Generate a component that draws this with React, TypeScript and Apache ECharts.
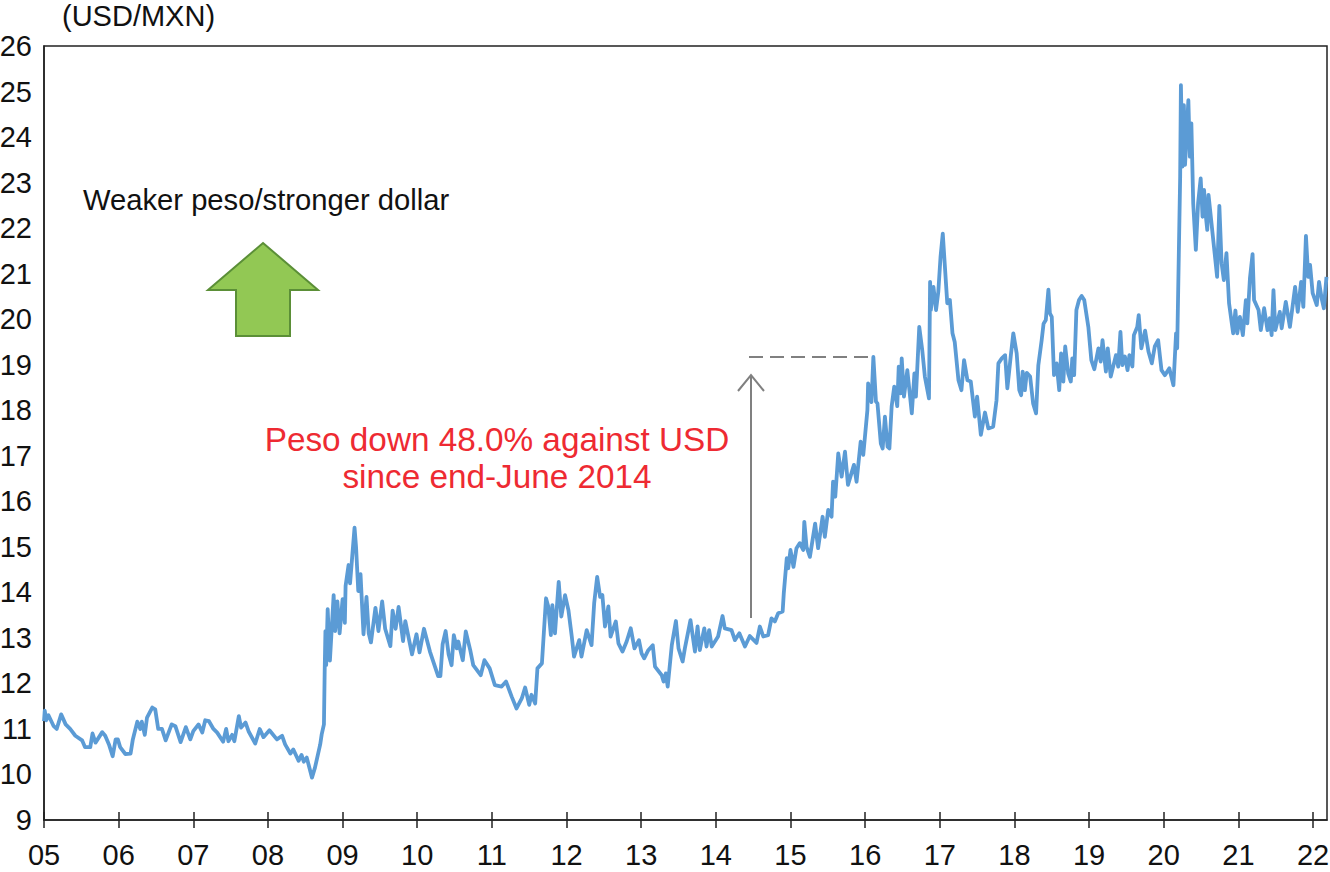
import React, { useEffect, useRef } from "react";
import * as echarts from "echarts";

const yearTicks = [2005, 2006, 2007, 2008, 2009, 2010, 2011, 2012, 2013, 2014, 2015, 2016, 2017, 2018, 2019, 2020, 2021, 2022];

const dates0508 = [2005.0, 2005.01, 2005.03, 2005.06, 2005.13, 2005.17, 2005.23, 2005.29, 2005.35, 2005.42, 2005.51, 2005.55, 2005.62, 2005.65, 2005.69, 2005.78, 2005.82, 2005.87, 2005.92, 2005.96, 2005.99,
  2006.02, 2006.09, 2006.16, 2006.19, 2006.25, 2006.29, 2006.31, 2006.35, 2006.38, 2006.45, 2006.49, 2006.53, 2006.58, 2006.63, 2006.71, 2006.76, 2006.83, 2006.9, 2006.96,
  2007.0, 2007.07, 2007.12, 2007.16, 2007.21, 2007.27, 2007.32, 2007.4, 2007.44, 2007.47, 2007.52, 2007.55, 2007.61, 2007.64, 2007.7, 2007.74, 2007.83, 2007.89, 2007.94,
  2008.02, 2008.12, 2008.19, 2008.23, 2008.3, 2008.34, 2008.41, 2008.45, 2008.48, 2008.52, 2008.59, 2008.63, 2008.7, 2008.72, 2008.75, 2008.76, 2008.77, 2008.78, 2008.8, 2008.83, 2008.88, 2008.9, 2008.93, 2008.96];
const rates0508 = [11.17, 11.4, 11.19, 11.3, 11.06, 11.0, 11.32, 11.1, 11.0, 10.85, 10.75, 10.6, 10.6, 10.9, 10.7, 10.93, 10.85, 10.66, 10.4, 10.77, 10.77,
  10.6, 10.45, 10.46, 10.77, 11.16, 11.0, 11.16, 10.87, 11.25, 11.47, 11.43, 11.0, 11.0, 10.75, 11.1, 11.06, 10.71, 11.04, 10.77,
  10.95, 11.1, 10.92, 11.19, 11.17, 11.0, 10.92, 10.72, 11.0, 10.73, 10.87, 10.73, 11.28, 11.03, 11.14, 10.95, 10.68, 11.0, 10.82,
  10.97, 10.77, 10.85, 10.66, 10.46, 10.55, 10.3, 10.43, 10.28, 10.37, 9.93, 10.15, 10.66, 10.88, 11.1, 12.27, 13.15, 12.4, 13.63, 12.5, 13.94, 13.15, 13.8, 13.1];

const dates0911 = [2009.0, 2009.03, 2009.04, 2009.08, 2009.1, 2009.16, 2009.18, 2009.21, 2009.24, 2009.28, 2009.32, 2009.35, 2009.38, 2009.44, 2009.48, 2009.53, 2009.57, 2009.64, 2009.67, 2009.71, 2009.75, 2009.81, 2009.84, 2009.93, 2009.99,
  2010.03, 2010.09, 2010.17, 2010.28, 2010.31, 2010.34, 2010.38, 2010.42, 2010.46, 2010.49, 2010.53, 2010.55, 2010.61, 2010.65, 2010.71, 2010.75, 2010.85, 2010.9, 2010.97,
  2011.04, 2011.13, 2011.19, 2011.265, 2011.33, 2011.4, 2011.445, 2011.5, 2011.53, 2011.58, 2011.61, 2011.67, 2011.725, 2011.755, 2011.79, 2011.81, 2011.845, 2011.895, 2011.93, 2011.98];
const rates0911 = [13.85, 13.33, 14.14, 14.6, 14.2, 15.42, 15.0, 14.03, 14.4, 13.08, 13.9, 13.1, 12.9, 13.66, 13.15, 13.8, 13.2, 12.82, 13.6, 13.2, 13.68, 12.93, 13.37, 12.64, 13.08,
  12.68, 13.2, 12.7, 12.16, 12.16, 12.86, 13.15, 12.64, 12.4, 13.06, 12.77, 12.92, 12.51, 13.14, 12.73, 12.4, 12.18, 12.51, 12.33,
  11.96, 11.93, 12.04, 11.71, 11.45, 11.67, 11.91, 11.53, 11.75, 11.56, 12.33, 12.44, 13.87, 13.69, 13.06, 13.72, 13.1, 14.23, 13.47, 13.94];

const dates1214 = [2012.025, 2012.07, 2012.1, 2012.17, 2012.2, 2012.27, 2012.335, 2012.37, 2012.41, 2012.45, 2012.48, 2012.515, 2012.56, 2012.59, 2012.66, 2012.695, 2012.75, 2012.805, 2012.86, 2012.91, 2012.97,
  2013.005, 2013.04, 2013.095, 2013.155, 2013.185, 2013.275, 2013.3, 2013.33, 2013.355, 2013.41, 2013.465, 2013.5, 2013.555, 2013.585, 2013.66, 2013.72, 2013.755, 2013.785, 2013.845, 2013.875, 2013.91, 2013.945,
  2014.03, 2014.09, 2014.12, 2014.21, 2014.255, 2014.315, 2014.39, 2014.455, 2014.545, 2014.59, 2014.635, 2014.7, 2014.745, 2014.79, 2014.835, 2014.895, 2014.91, 2014.95, 2014.97];
const rates1214 = [13.61, 13.03, 12.59, 12.95, 12.59, 13.17, 12.84, 13.76, 14.34, 13.9, 13.94, 13.25, 13.69, 13.03, 13.36, 12.88, 12.7, 12.92, 13.21, 12.77, 12.95,
  12.66, 12.55, 12.73, 12.84, 12.37, 12.18, 12.04, 12.22, 11.93, 12.84, 13.37, 12.77, 12.48, 12.77, 13.39, 12.7, 13.25, 12.73, 13.21, 12.81, 13.17, 12.81,
  13.03, 13.48, 13.21, 13.17, 12.95, 13.1, 12.81, 13.04, 12.89, 13.25, 13.03, 13.06, 13.43, 13.36, 13.54, 13.58, 13.98, 14.75, 14.53];

const dates1517 = [2015.0, 2015.04, 2015.08, 2015.125, 2015.17, 2015.185, 2015.215, 2015.26, 2015.33, 2015.37, 2015.43, 2015.46, 2015.505, 2015.55, 2015.57, 2015.6, 2015.64, 2015.685, 2015.73, 2015.77, 2015.85, 2015.885, 2015.94, 2015.975,
  2016.03, 2016.04, 2016.085, 2016.11, 2016.145, 2016.165, 2016.21, 2016.235, 2016.265, 2016.3, 2016.325, 2016.355, 2016.39, 2016.43, 2016.45, 2016.475, 2016.49, 2016.52, 2016.565, 2016.625, 2016.66, 2016.68, 2016.725, 2016.765, 2016.8, 2016.855, 2016.87, 2016.88, 2016.915, 2016.95, 2016.98,
  2017.01, 2017.04, 2017.06, 2017.1, 2017.135, 2017.17, 2017.2, 2017.25, 2017.29, 2017.325, 2017.37, 2017.415, 2017.47, 2017.5, 2017.55, 2017.605, 2017.65, 2017.715, 2017.76, 2017.785, 2017.83, 2017.875, 2017.905, 2017.95, 2017.985];
const rates1517 = [14.93, 14.56, 14.97, 15.08, 14.93, 15.55, 15.0, 14.78, 15.51, 14.97, 15.66, 15.22, 15.81, 15.66, 16.43, 16.1, 17.05, 16.54, 17.09, 16.36, 16.8, 16.43, 17.31, 17.02,
  18.0, 18.59, 18.18, 19.17, 18.19, 18.15, 17.27, 17.16, 17.86, 17.2, 17.16, 18.08, 18.52, 18.09, 18.96, 18.37, 19.14, 18.3, 18.88, 17.93, 18.81, 18.3, 19.83, 19.32, 18.74, 18.26, 20.82, 20.2, 20.71, 20.2, 20.6,
  21.37, 21.88, 21.37, 20.35, 20.42, 19.69, 19.5, 18.66, 18.44, 19.1, 18.66, 18.63, 17.86, 18.3, 17.46, 17.95, 17.6, 17.64, 18.22, 19.03, 19.14, 19.21, 18.48, 19.18, 19.69];

const dates1819 = [2018.03, 2018.065, 2018.09, 2018.11, 2018.14, 2018.165, 2018.21, 2018.25, 2018.29, 2018.32, 2018.365, 2018.39, 2018.42, 2018.455, 2018.475, 2018.5, 2018.53, 2018.565, 2018.6, 2018.625, 2018.655, 2018.68, 2018.72, 2018.755, 2018.775, 2018.8, 2018.83, 2018.865, 2018.9, 2018.935, 2018.99,
  2019.03, 2019.07, 2019.125, 2019.155, 2019.18, 2019.225, 2019.25, 2019.29, 2019.36, 2019.39, 2019.42, 2019.445, 2019.48, 2019.515, 2019.54, 2019.58, 2019.6, 2019.645, 2019.665, 2019.7, 2019.75, 2019.795, 2019.84, 2019.88, 2019.925, 2019.97];
const rates1819 = [19.25, 18.44, 18.33, 18.85, 18.44, 18.82, 18.74, 18.15, 17.93, 18.99, 19.54, 19.9, 19.98, 20.65, 20.13, 20.05, 18.77, 19.03, 18.44, 19.25, 18.63, 19.4, 18.81, 18.63, 19.14, 18.77, 20.2, 20.42, 20.51, 20.42, 19.83,
  19.1, 18.9, 19.36, 19.07, 19.54, 18.85, 19.36, 18.74, 19.21, 18.96, 19.72, 18.99, 19.18, 18.88, 19.21, 18.96, 19.65, 19.83, 20.09, 19.36, 19.75, 19.29, 19.03, 19.4, 19.54, 18.88];

const dates2022 = [2020.015, 2020.075, 2020.13, 2020.165, 2020.18, 2020.22, 2020.23, 2020.25, 2020.27, 2020.285, 2020.33, 2020.35, 2020.37, 2020.395, 2020.43, 2020.46, 2020.495, 2020.52, 2020.54, 2020.565, 2020.583, 2020.6, 2020.64, 2020.715, 2020.745, 2020.775, 2020.805, 2020.84, 2020.875, 2020.93, 2020.96, 2020.985,
  2021.02, 2021.06, 2021.1, 2021.12, 2021.155, 2021.19, 2021.21, 2021.27, 2021.3, 2021.345, 2021.39, 2021.42, 2021.445, 2021.47, 2021.495, 2021.555, 2021.58, 2021.635, 2021.69, 2021.76, 2021.795, 2021.84, 2021.87, 2021.905, 2021.935, 2021.96, 2021.995,
  2022.05, 2022.08, 2022.115, 2022.145, 2022.18];
const rates2022 = [18.77, 18.92, 18.55, 19.69, 19.36, 23.13, 25.14, 23.35, 24.7, 23.39, 24.81, 23.57, 24.3, 22.54, 21.52, 22.54, 23.09, 22.25, 22.84, 22.25, 21.96, 22.73, 22.1, 20.93, 22.49, 21.23, 20.86, 21.45, 20.35, 19.69, 20.19, 19.69,
  20.05, 19.65, 20.42, 19.91, 20.9, 21.43, 20.42, 20.2, 19.76, 20.24, 19.76, 20.02, 19.65, 20.64, 19.76, 20.16, 19.8, 20.38, 19.83, 20.71, 20.16, 20.82, 20.27, 21.83, 20.93, 21.19, 20.57,
  20.31, 20.82, 20.46, 20.24, 20.93];

const dates = [...dates0508, ...dates0911, ...dates1214, ...dates1517, ...dates1819, ...dates2022];
const rates = [...rates0508, ...rates0911, ...rates1214, ...rates1517, ...rates1819, ...rates2022];

const unitLabel = "(USD/MXN)";
const directionLabel = "Weaker peso/stronger dollar";
const noteLines = "Peso down 48.0% against USD\nsince end-June 2014";

const FONT = '"Liberation Sans", Arial, sans-serif';
const INK = "#222222";
const GREY = "#808080";

export default function App() {
  const ref = useRef<HTMLDivElement>(null);
  useEffect(() => {
    const chart = echarts.init(ref.current!, null, { renderer: "svg" });
    const xBase = { type: "value", min: 2005, max: 2022.187, splitLine: { show: false } };
    chart.setOption({
      animation: false,
      backgroundColor: "#ffffff",
      grid: { left: 44, top: 46, width: 1283, height: 774, show: true, outerBoundsMode: "none", containLabel: false, borderColor: INK, borderWidth: 1.5, backgroundColor: "transparent" },
      xAxis: [
        {
          ...xBase,
          axisLine: { show: true, lineStyle: { color: INK, width: 1.5 } },
          axisTick: { show: true, customValues: yearTicks, length: 8, lineStyle: { color: INK, width: 1.5 } },
          axisLabel: {
            customValues: yearTicks,
            margin: 20,
            color: "#111111",
            fontFamily: FONT,
            fontSize: 29,
            formatter: (v: number) => String(Math.round(v)).slice(2),
          },
        },
        {
          ...xBase,
          position: "bottom",
          axisLine: { show: false },
          axisTick: { show: true, inside: true, customValues: yearTicks, length: 8, lineStyle: { color: INK, width: 1.5 } },
          axisLabel: { show: false },
        },
      ],
      yAxis: {
        type: "value",
        min: 9,
        max: 26,
        interval: 1,
        splitLine: { show: false },
        axisLine: { show: true, lineStyle: { color: INK, width: 1.5 } },
        axisTick: { show: false },
        axisLabel: { margin: 12, color: "#111111", fontFamily: FONT, fontSize: 29 },
      },
      series: [
        {
          type: "line",
          data: dates.map((d, i) => [d, rates[i]]),
          showSymbol: false,
          smooth: false,
          clip: true,
          lineStyle: { color: "#5b9bd5", width: 3.8, join: "round" },
          z: 3,
        },
      ],
      graphic: [
        { type: "text", x: 62, y: 16, style: { text: unitLabel, fill: "#111111", font: `29px ${FONT}`, textVerticalAlign: "middle" } },
        { type: "text", x: 83, y: 200, style: { text: directionLabel, fill: "#111111", font: `29.2px ${FONT}`, textVerticalAlign: "middle" } },
        {
          type: "polygon",
          shape: { points: [[263, 243], [318, 290], [290, 290], [290, 336], [236, 336], [236, 290], [208, 290]] },
          style: { fill: "#92c854", stroke: "#5b8f37", lineWidth: 2 },
        },
        {
          type: "text",
          x: 497,
          y: 458,
          style: { text: noteLines, fill: "#ee2a32", font: `33.3px ${FONT}`, lineHeight: 37, textAlign: "center", textVerticalAlign: "middle" },
        },
        { type: "line", shape: { x1: 751, y1: 618, x2: 751, y2: 375 }, style: { stroke: GREY, lineWidth: 2 } },
        { type: "polyline", shape: { points: [[738, 391], [751, 375], [764, 391]] }, style: { stroke: GREY, lineWidth: 2, fill: "none" } },
        { type: "line", shape: { x1: 749, y1: 357, x2: 874, y2: 357 }, style: { stroke: GREY, lineWidth: 2, lineDash: [14, 7] } },
      ],
    });
    return () => chart.dispose();
  }, []);
  return <div ref={ref} style={{ position: "absolute", left: 0, top: 0, width: 1330, height: 872 }} />;
}
